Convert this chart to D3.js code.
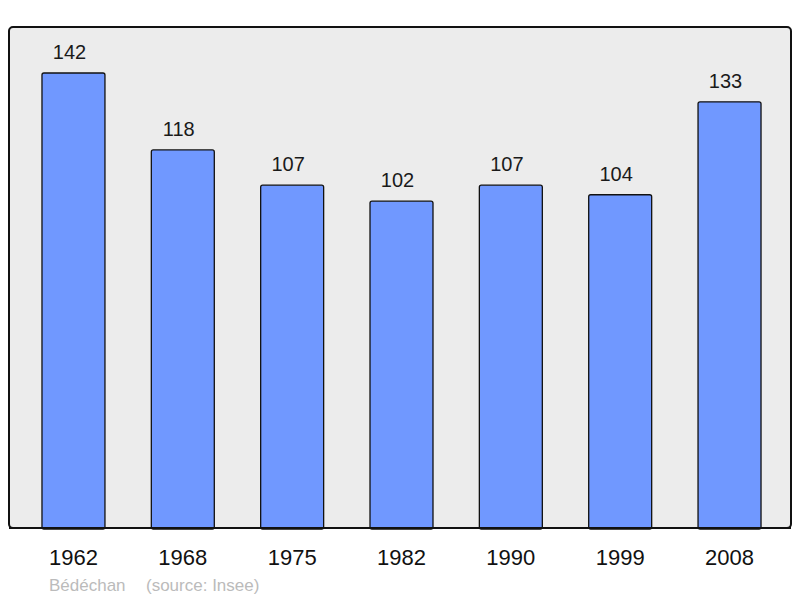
<!DOCTYPE html>
<html>
<head>
  <meta charset="utf-8">
  <script src="https://cdn.jsdelivr.net/npm/d3@7/dist/d3.min.js"></script>
  <style>
    body { margin:0; background:white; }
    text { font-family: "Liberation Sans", Arial, sans-serif; }
  </style>
</head>
<body>
  <div id="chart"></div>
  <script>
  var years = ['1962', '1968', '1975', '1982', '1990', '1999', '2008'];
  var population = [142, 118, 107, 102, 107, 104, 133];
  var credit = 'Bédéchan';
  var source = '(source: Insee)';

  var w = 800, h = 598;
  var panel = {x:9, y:27, w:782, h:501};

  var svg = d3.select('#chart').append('svg')
    .attr('width', w)
    .attr('height', h);

  var x = d3.scaleBand()
    .domain(years)
    .range([18.8, 784.2])
    .paddingInner(0.424)
    .paddingOuter(0.212);

  var y = d3.scaleLinear()
    .domain([0, 142])
    .range([panel.y + panel.h, 73]);

  svg.append('rect')
    .attr('x', panel.x).attr('y', panel.y)
    .attr('width', panel.w).attr('height', panel.h)
    .attr('rx', 4)
    .attr('fill', '#ececec')
    .attr('stroke', '#111')
    .attr('stroke-width', 2);

  var data = years.map(function(d, i) { return {year:d, value:population[i]}; });

  svg.selectAll('rect.bar')
    .data(data)
  .enter().append('rect')
    .attr('class', 'bar')
    .attr('x', function(d) { return x(d.year); })
    .attr('y', function(d) { return y(d.value); })
    .attr('width', x.bandwidth())
    .attr('height', function(d) { return y(0) - y(d.value) + 1; })
    .attr('rx', 2)
    .attr('fill', '#7098ff')
    .attr('stroke', '#111')
    .attr('stroke-width', 1.3);

  // panel border drawn again on top so the bar bottoms sit on it
  svg.append('line')
    .attr('x1', panel.x).attr('x2', panel.x + panel.w)
    .attr('y1', panel.y + panel.h).attr('y2', panel.y + panel.h)
    .attr('stroke', '#111').attr('stroke-width', 2);

  svg.selectAll('text.value')
    .data(data)
  .enter().append('text')
    .attr('class', 'value')
    .attr('x', function(d) { return x(d.year) + x.bandwidth()/2 - 4; })
    .attr('y', function(d) { return y(d.value) - 14; })
    .attr('text-anchor', 'middle')
    .attr('font-size', 20)
    .attr('fill', '#1a1a1a')
    .text(function(d) { return d.value; });

  svg.selectAll('text.year')
    .data(years)
  .enter().append('text')
    .attr('class', 'year')
    .attr('x', function(d) { return x(d) + x.bandwidth()/2; })
    .attr('y', 564.5)
    .attr('text-anchor', 'middle')
    .attr('font-size', 22)
    .attr('fill', '#111')
    .text(function(d) { return d; });

  svg.append('text')
    .attr('x', 49).attr('y', 591)
    .attr('font-size', 17)
    .attr('fill', '#bbb')
    .text(credit);

  svg.append('text')
    .attr('x', 146).attr('y', 591)
    .attr('font-size', 17)
    .attr('fill', '#bbb')
    .text(source);
  </script>
</body>
</html>
